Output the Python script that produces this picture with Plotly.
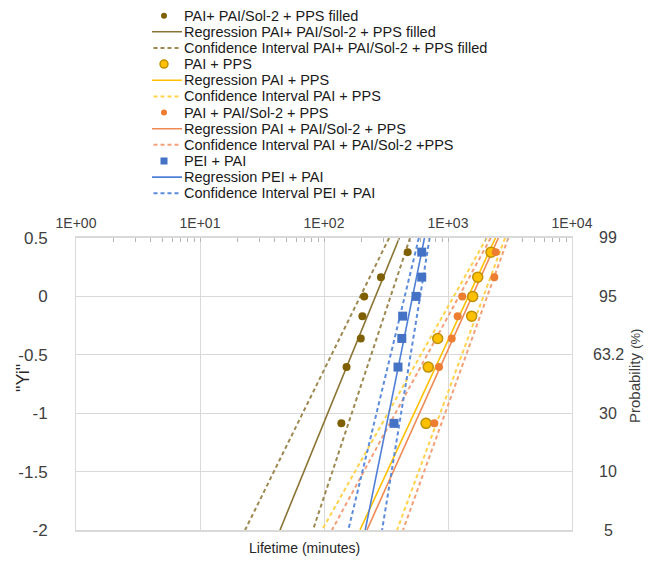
import plotly.graph_objects as go

# ---------------- data ----------------
yi = [-1.087, -0.605, -0.36, -0.169, 0.0, 0.165, 0.379]

t_filled = [138, 152, 198, 204, 211, 288, 473]        # PAI+ PAI/Sol-2 + PPS filled
t_pai_pps = [665, 693, 826, 1552, 1581, 1737, 2222]   # PAI + PPS
t_pai_sol = [776, 846, 1071, 1197, 1304, 2362, 2426]  # PAI + PAI/Sol-2 + PPS
t_pei_pai = [367, 395, 424, 431, 552, 614, 614]       # PEI + PAI

line_yi = [0.5, -2.0]
reg_filled = [405, 44.2]
ci_lo_filled = [335, 23.1]
ci_hi_filled = [494, 81.5]
reg_pai_pps = [2415, 195]
ci_lo_pai_pps = [2051, 96.4]
ci_hi_pai_pps = [2884, 388]
reg_pai_sol = [2547, 222]
ci_lo_pai_sol = [2208, 116]
ci_hi_pai_sol = [3062, 434]
reg_pei_pai = [646, 215]
ci_lo_pei_pai = [582, 157]
ci_hi_pei_pai = [711, 294]

x_tickvals = [1, 10, 100, 1000, 10000]
x_ticktext = ["1E+00", "1E+01", "1E+02", "1E+03", "1E+04"]
y_tickvals = [0.5, 0, -0.5, -1, -1.5, -2]
y_ticktext = ["0.5", "0", "-0.5", "-1", "-1.5", "-2"]
prob_labels = ["99", "95", "63.2", "30", "10", "5"]

legend_labels = [
    "PAI+ PAI/Sol-2 + PPS filled",
    "Regression PAI+ PAI/Sol-2 + PPS filled",
    "Confidence Interval PAI+ PAI/Sol-2 + PPS filled",
    "PAI + PPS",
    "Regression PAI + PPS",
    "Confidence Interval PAI + PPS",
    "PAI + PAI/Sol-2 + PPS",
    "Regression PAI + PAI/Sol-2 + PPS",
    "Confidence Interval PAI + PAI/Sol-2 +PPS",
    "PEI + PAI",
    "Regression PEI + PAI",
    "Confidence Interval PEI + PAI",
]

# minor tick positions of the log axis (2..9 in each decade)
minor_ticks = [m * 10 ** k for k in range(4) for m in range(2, 10)]

# ---------------- styles ----------------
FONT = "Liberation Sans, Arial, sans-serif"
styles = {
    "filled": dict(mk=dict(color="#7F6000", size=8, symbol="circle", line=dict(width=0)),
                   reg="#8A7434", ci="#9C8850"),
    "pai_pps": dict(mk=dict(color="#FFC000", size=10, symbol="circle", line=dict(color="#BF9000", width=1.5)),
                    reg="#FFC000", ci="#FFD24A"),
    "pai_sol": dict(mk=dict(color="#ED7D31", size=8, symbol="circle", line=dict(width=0)),
                    reg="#F08A55", ci="#F3A07A"),
    "pei_pai": dict(mk=dict(color="#4472C4", size=9, symbol="square", line=dict(width=0)),
                    reg="#4F7FD6", ci="#5B8BDA"),
}
series = [
    ("filled", t_filled, reg_filled, ci_lo_filled, ci_hi_filled),
    ("pai_pps", t_pai_pps, reg_pai_pps, ci_lo_pai_pps, ci_hi_pai_pps),
    ("pai_sol", t_pai_sol, reg_pai_sol, ci_lo_pai_sol, ci_hi_pai_sol),
    ("pei_pai", t_pei_pai, reg_pei_pai, ci_lo_pei_pai, ci_hi_pei_pai),
]
DASH = "4px,3px"

fig = go.Figure()

# lines first
for key, pts, reg, lo, hi in series:
    st = styles[key]
    for ci in (lo, hi):
        fig.add_trace(go.Scatter(x=ci, y=line_yi, mode="lines", showlegend=False,
                                 line=dict(color=st["ci"], width=2, dash=DASH), hoverinfo="skip"))
    fig.add_trace(go.Scatter(x=reg, y=line_yi, mode="lines", showlegend=False,
                             line=dict(color=st["reg"], width=1.6), hoverinfo="skip"))
# points on top
for key, pts, reg, lo, hi in series:
    st = styles[key]
    fig.add_trace(go.Scatter(x=pts, y=yi, mode="markers", showlegend=False, marker=st["mk"]))

# ---------------- manual legend on an auxiliary axis ----------------
legend_kinds = []
for key in ["filled", "pai_pps", "pai_sol", "pei_pai"]:
    legend_kinds += [(key, "marker"), (key, "reg"), (key, "ci")]

annotations = []
for i, ((key, kind), label) in enumerate(zip(legend_kinds, legend_labels)):
    st = styles[key]
    if kind == "marker":
        mk = dict(st["mk"])
        mk["size"] = mk["size"] - 2
        fig.add_trace(go.Scatter(x=[0.4], y=[i], mode="markers", marker=mk, showlegend=False,
                                 xaxis="x3", yaxis="y3", hoverinfo="skip"))
    elif kind == "reg":
        fig.add_trace(go.Scatter(x=[0, 1], y=[i, i], mode="lines", showlegend=False,
                                 line=dict(color=st["reg"], width=1.6),
                                 xaxis="x3", yaxis="y3", hoverinfo="skip"))
    else:
        fig.add_trace(go.Scatter(x=[0.05, 0.95], y=[i, i], mode="lines", showlegend=False,
                                 line=dict(color=st["ci"], width=2, dash=DASH),
                                 xaxis="x3", yaxis="y3", hoverinfo="skip"))
    annotations.append(dict(x=1, y=i, xref="x3", yref="y3", text=label, showarrow=False,
                            xanchor="left", yanchor="middle", xshift=0,
                            font=dict(family=FONT, size=14.5, color="#1a1a1a")))

# ---------------- layout geometry ----------------
W, H = 655, 565
L, R, T, B = 76, 83, 5, 35
pw, ph = W - L - R, H - T - B
plot_top_px = 238


def px_x(px):
    return (px - L) / pw


def px_y(py):
    return (H - B - py) / ph


# right-hand probability labels
for v, txt in zip(y_tickvals, prob_labels):
    annotations.append(dict(x=px_x(608), y=v, xref="paper", yref="y", text=txt, showarrow=False,
                            xanchor="center", yanchor="middle",
                            font=dict(family=FONT, size=16, color="#404040")))

annotations.append(dict(x=px_x(634), y=px_y(376), xref="paper", yref="paper",
                        text="Probability <span style='font-size:13px'>(%)</span>",
                        textangle=-90, showarrow=False, xanchor="center", yanchor="middle",
                        font=dict(family=FONT, size=15, color="#404040")))
annotations.append(dict(x=px_x(23), y=px_y(378), xref="paper", yref="paper", text='"Yi"',
                        textangle=-90, showarrow=False, xanchor="center", yanchor="middle",
                        font=dict(family=FONT, size=18, color="#262626")))
annotations.append(dict(x=px_x(304), y=px_y(548), xref="paper", yref="paper",
                        text="Lifetime (minutes)", showarrow=False, xanchor="center",
                        yanchor="middle", font=dict(family=FONT, size=14, color="#262626")))

GRID = "#d9d9d9"
TICKC = "#b4b4b4"
y_dom = [0, px_y(plot_top_px)]
fig.update_layout(
    width=W, height=H,
    margin=dict(l=L, r=R, t=T, b=B, autoexpand=False),
    paper_bgcolor="white", plot_bgcolor="white",
    showlegend=False,
    font=dict(family=FONT, color="#404040"),
    annotations=annotations,
    xaxis=dict(type="log", range=[0, 4], side="top", anchor="y", domain=[0, 1],
               tickmode="array", tickvals=x_tickvals, ticktext=x_ticktext,
               tickfont=dict(family=FONT, size=14, color="#404040"),
               showgrid=True, gridcolor=GRID, gridwidth=1,
               showline=True, linecolor=GRID, linewidth=1.5, mirror=True,
               ticks="inside", ticklen=4, tickcolor=TICKC, tickwidth=1,
               ticklabelstandoff=3, zeroline=False, automargin=False,
               minor=dict(tickmode="array", tickvals=minor_ticks, ticks="inside", ticklen=4,
                          tickcolor=TICKC, tickwidth=1, showgrid=False)),
    # overlay axis only to draw the upper half of the crossing ticks
    xaxis2=dict(type="log", range=[0, 4], side="top", anchor="y", overlaying="x",
                tickmode="array", tickvals=x_tickvals, showticklabels=False,
                showgrid=False, showline=False, zeroline=False, automargin=False,
                ticks="outside", ticklen=3, tickcolor=TICKC, tickwidth=1,
                minor=dict(tickmode="array", tickvals=minor_ticks, ticks="outside", ticklen=3,
                           tickcolor=TICKC, tickwidth=1, showgrid=False)),
    yaxis=dict(range=[-2, 0.5], domain=y_dom, anchor="x",
               tickmode="array", tickvals=y_tickvals, ticktext=y_ticktext,
               tickfont=dict(family=FONT, size=17, color="#404040"),
               showgrid=True, gridcolor=GRID, gridwidth=1,
               showline=True, linecolor=GRID, linewidth=1, mirror=True,
               ticks="", ticklabelstandoff=24, zeroline=False, automargin=False),
    xaxis3=dict(domain=[px_x(152), px_x(182)], range=[0, 1], anchor="y3", visible=False,
                fixedrange=True),
    yaxis3=dict(domain=[px_y(201.4), px_y(7.6)], range=[11.5, -0.5], anchor="x3",
                visible=False, fixedrange=True),
)

fig.write_html("out.html", config={"displayModeBar": False},
               post_script="document.body.style.margin='0px';")
